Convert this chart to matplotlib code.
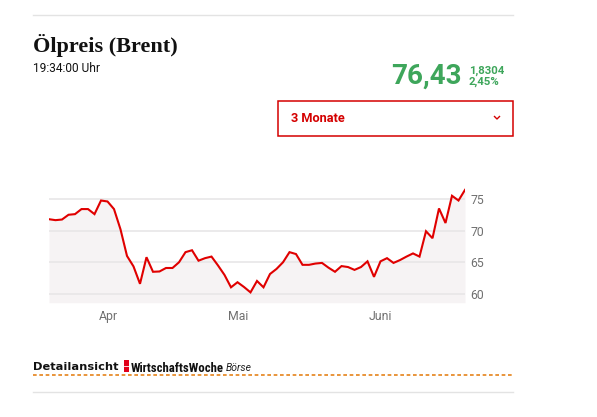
import matplotlib
matplotlib.use("Agg")
import matplotlib.pyplot as plt
from matplotlib.patches import Rectangle
from matplotlib.lines import Line2D
from matplotlib import font_manager

# ---- data ----
prices = [71.8, 71.65, 71.75, 72.5, 72.6, 73.4, 73.4, 72.6, 74.75, 74.6,
          73.4, 70.2, 66.0, 64.35, 61.6, 65.8, 63.5, 63.55, 64.1, 64.1,
          65.0, 66.6, 66.9, 65.25, 65.65, 65.9, 64.5, 63.0, 61.05, 61.85,
          61.1, 60.25, 62.05, 61.05, 63.15, 63.95, 65.0, 66.6, 66.3, 64.6,
          64.6, 64.8, 64.9, 64.15, 63.5, 64.4, 64.25, 63.8, 64.25, 65.15,
          62.7, 65.15, 65.65, 64.9, 65.35, 65.9, 66.4, 65.9, 69.9, 68.8,
          73.5, 71.2, 75.5, 74.75, 76.43]
month_labels = ["Apr", "Mai", "Juni"]
month_start_idx = [9.1, 29.1, 51.0]
y_ticks = [60, 65, 70, 75]

title = "Ölpreis (Brent)"
time_text = "19:34:00 Uhr"
last_price = "76,43"
change_abs = "1,8304"
change_pct = "2,45%"
period = "3 Monate"

W, H = 597, 417
fig = plt.figure(figsize=(W / 100, H / 100), dpi=100)
fig.patch.set_facecolor("white")

def fx(x):
    return x / W

def fy(y):
    return 1 - y / H

def fit_width(txt, target_px):
    r = fig.canvas.get_renderer()
    w = txt.get_window_extent(renderer=r).width
    if w > 0:
        txt.set_fontsize(txt.get_fontsize() * target_px / w)

# pick a narrow family for the logo if one exists
available = {f.name for f in font_manager.fontManager.ttflist}
narrow = "Roboto"
for cand in ["Liberation Sans Narrow", "DejaVu Sans Condensed", "Roboto Condensed",
             "Open Sans Condensed"]:
    if cand in available:
        narrow = cand
        break

RED = "#e00000"
GREEN = "#3ea65b"

# ---- chart axes ----
ax_l, ax_r, ax_t, ax_b = 49, 465, 185, 302.7
ax = fig.add_axes([fx(ax_l), fy(ax_b), fx(ax_r - ax_l), (ax_b - ax_t) / H])
xs = list(range(len(prices)))
ymin, ymax = 58.62, 77.2
ax.set_xlim(0, len(prices) - 1)
ax.set_ylim(ymin, ymax)
ax.fill_between(xs, prices, ymin, color="#f6f3f4", lw=0, zorder=1)
for t in y_ticks:
    ax.axhline(t, color="#e8e6e7", lw=1.2, zorder=2)
ax.plot(xs, prices, color=RED, lw=1.5, zorder=3, solid_joinstyle="miter")
for s in ax.spines.values():
    s.set_visible(False)
ax.set_xticks(month_start_idx)
ax.set_xticklabels(month_labels)
ax.set_yticks(y_ticks)
ax.set_yticklabels([str(t) for t in y_ticks])
ax.yaxis.tick_right()
ax.tick_params(axis="both", length=0, labelsize=8.8, colors="#707070",
               labelfontfamily="Roboto")
ax.tick_params(axis="y", pad=4)
ax.tick_params(axis="x", pad=5.5)
ax.patch.set_alpha(0)

# ---- header ----
fig.add_artist(Line2D([fx(33), fx(513)], [fy(15.3), fy(15.3)], color="#e3e3e3", lw=1))
fig.text(fx(33), fy(52), title, fontsize=16, fontweight="bold",
         family="Liberation Serif", va="baseline", ha="left", color="#111111")
fig.text(fx(33), fy(71.5), time_text, fontsize=8.6, family="Roboto",
         va="baseline", ha="left", color="#111111")
fig.text(fx(461.5), fy(83.3), last_price, fontsize=20, fontweight="bold",
         family="Roboto", va="baseline", ha="right", color=GREEN)
fig.text(fx(469), fy(73.3), change_abs, fontsize=8.2, fontweight="bold",
         family="Roboto", va="baseline", ha="left", color=GREEN)
fig.text(fx(469), fy(84.6), change_pct, fontsize=8.2, fontweight="bold",
         family="Roboto", va="baseline", ha="left", color=GREEN)

# dropdown
fig.add_artist(Rectangle((fx(278.3), fy(136.3)), fx(512.7 - 278.3), (136.3 - 101.3) / H,
                         fill=False, edgecolor="#d40000", lw=1.1))
fig.text(fx(291), fy(118.7), period, fontsize=9.2, fontweight="bold",
         family="Roboto", va="center", ha="left", color="#d40000")
fig.add_artist(Line2D([fx(494.5), fx(497), fx(499.5)], [fy(116.5), fy(119), fy(116.5)],
                      color="#d40000", lw=1))

# ---- footer ----
t_det = fig.text(fx(33), fy(370), "Detailansicht", fontsize=8.3, fontweight="bold",
                 family="DejaVu Sans", va="baseline", ha="left", color="#111111")
fit_width(t_det, 85)
fig.add_artist(Rectangle((fx(124.3), fy(372)), fx(5), 12 / H, color="#e2001a", lw=0))
fig.add_artist(Line2D([fx(124.3), fx(129.3)], [fy(366), fy(366)], color="white", lw=0.6))
t_ww = fig.text(fx(131), fy(371.5), "WirtschaftsWoche", fontsize=8, fontweight="bold",
                family=narrow, va="baseline", ha="left", color="#111111")
fit_width(t_ww, 93)
fig.text(fx(226), fy(371), "Börse", fontsize=7.5, style="italic",
         family="Roboto", va="baseline", ha="left", color="#222222")
fig.add_artist(Line2D([fx(33), fx(513)], [fy(375.3), fy(375.3)], color="#e5831a",
                      lw=1.2, dashes=(2.2, 1.6)))
fig.add_artist(Line2D([fx(33), fx(513)], [fy(392.3), fy(392.3)], color="#e3e3e3", lw=1))

fig.savefig("out.png", dpi=100, facecolor="white")
